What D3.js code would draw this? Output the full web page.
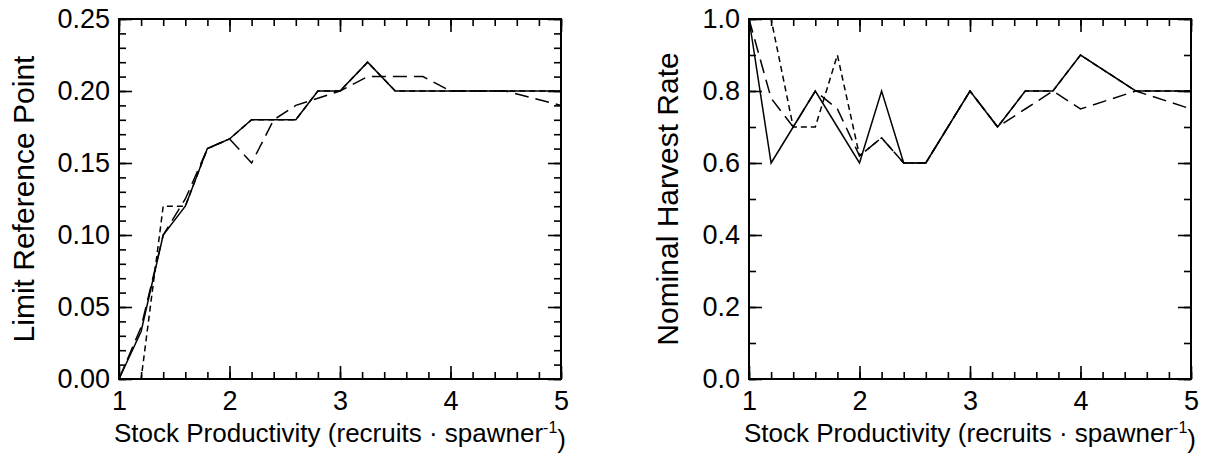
<!DOCTYPE html>
<html>
<head>
<meta charset="utf-8">
<script src="https://cdn.jsdelivr.net/npm/d3@7"></script>
<style>
  html, body { margin: 0; padding: 0; background: #fff; }
  svg { display: block; }
  text { font-family: "Liberation Sans", Arial, sans-serif; fill: #000; }
</style>
</head>
<body>
<svg id="chart" width="1223" height="457"></svg>
<script>
// ---------- data ----------
const productivity = [1, 1.2, 1.4, 1.6, 1.8, 2, 2.2, 2.4, 2.6, 2.8, 3, 3.25, 3.5, 3.75, 4, 4.5, 5];

const limitSolid = [0, 0.033, 0.10, 0.12, 0.16, 0.1667, 0.18, 0.18, 0.18, 0.20, 0.20, 0.22, 0.20, 0.20, 0.20, 0.20, 0.20];
const limitLongDash = [0, 0.036, 0.10, 0.125, 0.16, 0.1667, 0.15, 0.18, 0.19, 0.195, 0.20, 0.21, 0.21, 0.21, 0.20, 0.20, 0.19];
const limitShortDash = [0, 0, 0.12, 0.12, 0.16, 0.1667, 0.18, 0.18, 0.18, 0.20, 0.20, 0.22, 0.20, 0.20, 0.20, 0.20, 0.20];

const harvestSolid = [1.0, 0.6, 0.7, 0.8, 0.7, 0.6, 0.8, 0.6, 0.6, 0.7, 0.8, 0.7, 0.8, 0.8, 0.9, 0.8, 0.8];
const harvestLongDash = [1.0, 0.78, 0.7, 0.8, 0.75, 0.62, 0.67, 0.6, 0.6, 0.7, 0.8, 0.7, 0.75, 0.8, 0.75, 0.8, 0.75];
const harvestShortDash = [1.0, 1.0, 0.7, 0.7, 0.9, 0.62, 0.67, 0.6, 0.6, 0.7, 0.8, 0.7, 0.8, 0.8, 0.9, 0.8, 0.8];

const xMajorTicks = [1, 2, 3, 4, 5];
const limitMajorTicks = [0, 0.05, 0.10, 0.15, 0.20, 0.25];
const harvestMajorTicks = [0, 0.2, 0.4, 0.6, 0.8, 1.0];

const limitTitle = "Limit Reference Point";
const harvestTitle = "Nominal Harvest Rate";

// ---------- layout ----------
const svg = d3.select("#chart");
const TICKFONT = 27;
const XTITLEFONT = 26;
const YTITLEFONT = 30;
const panels = [
  { left: 119, right: 561, top: 19, bottom: 379, yMax: 0.25, majors: limitMajorTicks, minorStep: 0.01, fmt: d3.format(".2f"),
    title: limitTitle, titleX: 23, series: [limitSolid, limitLongDash, limitShortDash] },
  { left: 749, right: 1191, top: 19, bottom: 379, yMax: 1.0, majors: harvestMajorTicks, minorStep: 0.1, fmt: d3.format(".1f"),
    title: harvestTitle, titleX: 667, series: [harvestSolid, harvestLongDash, harvestShortDash] }
];
const dashes = [null, "14,7", "6,4"];

panels.forEach(p => {
  const x = d3.scaleLinear().domain([1, 5]).range([p.left, p.right]);
  const y = d3.scaleLinear().domain([0, p.yMax]).range([p.bottom, p.top]);
  const g = svg.append("g");

  const xMinor = d3.range(1, 5.0001, 0.2).map(v => +v.toFixed(2));
  const nMinorY = Math.round(p.yMax / p.minorStep);
  const yMinor = d3.range(0, nMinorY + 1).map(i => +(i * p.minorStep).toFixed(3));

  const MAJ = 13, MIN = 7;
  function addAxis(axis, transform) {
    const a = g.append("g").attr("transform", transform).call(axis);
    a.select(".domain").remove();
    a.selectAll(".tick line").attr("stroke", "#000").attr("stroke-width", 1.6);
    a.selectAll("text").style("font-size", TICKFONT + "px").attr("fill", "#000");
    return a;
  }
  // bottom
  addAxis(d3.axisBottom(x).tickValues(xMinor).tickSizeInner(-MIN).tickSizeOuter(0).tickFormat(""), `translate(0,${p.bottom})`);
  addAxis(d3.axisBottom(x).tickValues(xMajorTicks).tickSizeInner(-MAJ).tickSizeOuter(0).tickPadding(12).tickFormat(d3.format("d")), `translate(0,${p.bottom})`);
  // top
  addAxis(d3.axisTop(x).tickValues(xMinor).tickSizeInner(-MIN).tickSizeOuter(0).tickFormat(""), `translate(0,${p.top})`);
  addAxis(d3.axisTop(x).tickValues(xMajorTicks).tickSizeInner(-MAJ).tickSizeOuter(0).tickFormat(""), `translate(0,${p.top})`);
  // left
  addAxis(d3.axisLeft(y).tickValues(yMinor).tickSizeInner(-MIN).tickSizeOuter(0).tickFormat(""), `translate(${p.left},0)`);
  addAxis(d3.axisLeft(y).tickValues(p.majors).tickSizeInner(-MAJ).tickSizeOuter(0).tickPadding(9).tickFormat(p.fmt), `translate(${p.left},0)`);
  // right
  addAxis(d3.axisRight(y).tickValues(yMinor).tickSizeInner(-MIN).tickSizeOuter(0).tickFormat(""), `translate(${p.right},0)`);
  addAxis(d3.axisRight(y).tickValues(p.majors).tickSizeInner(-MAJ).tickSizeOuter(0).tickFormat(""), `translate(${p.right},0)`);

  // series
  const line = d3.line().x((d, i) => x(productivity[i])).y(d => y(d));
  p.series.forEach((s, k) => {
    g.append("path").datum(s)
      .attr("d", line)
      .attr("fill", "none")
      .attr("stroke", "#000")
      .attr("stroke-width", 1.5)
      .attr("stroke-dasharray", dashes[k]);
  });

  // frame
  g.append("rect")
    .attr("x", p.left).attr("y", p.top)
    .attr("width", p.right - p.left).attr("height", p.bottom - p.top)
    .attr("fill", "none").attr("stroke", "#000").attr("stroke-width", 2);

  // y title
  g.append("text")
    .attr("transform", `translate(${p.titleX},${(p.top + p.bottom) / 2}) rotate(-90)`)
    .attr("text-anchor", "middle")
    .attr("dy", "0.35em")
    .style("font-size", YTITLEFONT + "px")
    .text(p.title);

  // x title
  const xt = g.append("text")
    .attr("x", (p.left + p.right) / 2)
    .attr("y", 442)
    .attr("text-anchor", "middle")
    .style("font-size", XTITLEFONT + "px");
  xt.append("tspan").text("Stock Productivity (recruits \u00B7 spawner");
  xt.append("tspan").attr("dy", "-0.55em").style("font-size", "16px").text("-1");
  xt.append("tspan").attr("dy", "0.55em").text(")");
});
</script>
</body>
</html>
